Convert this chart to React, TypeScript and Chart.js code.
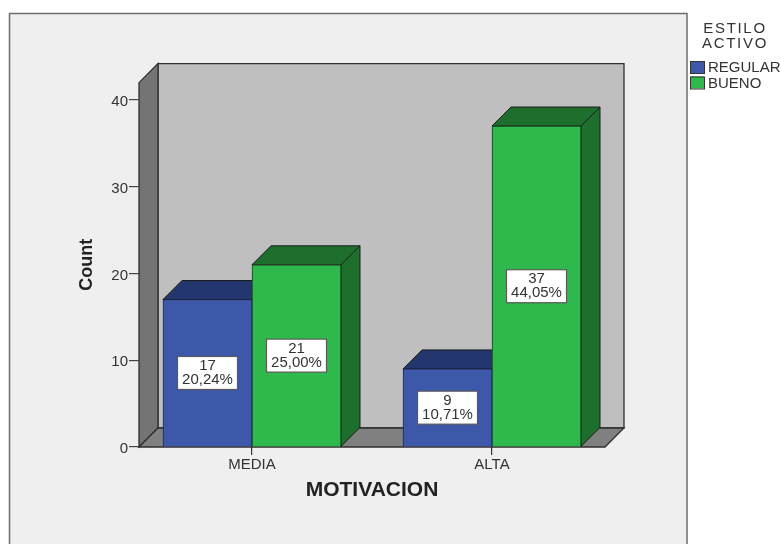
import React, { useEffect, useRef } from "react";
import { Chart, registerables } from "chart.js";

Chart.register(...registerables);

const categories = ["MEDIA", "ALTA"];
const regularCounts = [17, 9];
const buenoCounts = [21, 37];
const regularPercents = ["20,24%", "10,71%"];
const buenoPercents = ["25,00%", "44,05%"];
const legendTitleLines = ["ESTILO", "ACTIVO"];
const seriesNames = ["REGULAR", "BUENO"];
const yTitle = "Count";
const xTitle = "MOTIVACION";

const FONT = "'Liberation Sans', Arial, sans-serif";
const TEXT = "#333333";
const DEPTH = 19;
const fills = ["#3d57a9", "#2fb84b"];
const darkFills = ["#24366e", "#1e6f2d"];
const percentLists = [regularPercents, buenoPercents];

const scene = {
  id: "scene",
  beforeDraw(chart: any) {
    const { ctx, chartArea: a, width, height } = chart;
    ctx.save();
    ctx.fillStyle = "#ffffff";
    ctx.fillRect(0, 0, width, height);
    ctx.fillStyle = "#efefef";
    ctx.strokeStyle = "#6e6e6e";
    ctx.lineWidth = 1.5;
    ctx.beginPath();
    ctx.rect(9.5, 13.5, 677.5, height + 20);
    ctx.fill();
    ctx.stroke();

    // back wall
    ctx.strokeStyle = "#2e2e2e";
    ctx.lineWidth = 1.3;
    ctx.fillStyle = "#bfbfbf";
    ctx.beginPath();
    ctx.rect(a.left + DEPTH, a.top - DEPTH, a.right - a.left, a.bottom - a.top);
    ctx.fill();
    ctx.stroke();
    // left wall
    ctx.fillStyle = "#747474";
    ctx.beginPath();
    ctx.moveTo(a.left, a.bottom);
    ctx.lineTo(a.left + DEPTH, a.bottom - DEPTH);
    ctx.lineTo(a.left + DEPTH, a.top - DEPTH);
    ctx.lineTo(a.left, a.top);
    ctx.closePath();
    ctx.fill();
    ctx.stroke();
    // floor
    ctx.fillStyle = "#808080";
    ctx.beginPath();
    ctx.moveTo(a.left, a.bottom);
    ctx.lineTo(a.right, a.bottom);
    ctx.lineTo(a.right + DEPTH, a.bottom - DEPTH);
    ctx.lineTo(a.left + DEPTH, a.bottom - DEPTH);
    ctx.closePath();
    ctx.fill();
    ctx.stroke();

    // legend
    ctx.fillStyle = TEXT;
    ctx.font = `15px ${FONT}`;
    ctx.textAlign = "center";
    ctx.textBaseline = "middle";
    (ctx as any).letterSpacing = "1.7px";
    legendTitleLines.forEach((t, i) => ctx.fillText(t, 735, 29 + i * 15));
    (ctx as any).letterSpacing = "0px";
    ctx.textAlign = "left";
    seriesNames.forEach((t, i) => {
      const y = 61 + i * 15.5;
      ctx.fillStyle = fills[i];
      ctx.strokeStyle = "#333333";
      ctx.lineWidth = 1;
      ctx.fillRect(690, y, 14, 12);
      ctx.strokeRect(690.5, y + 0.5, 14, 12);
      ctx.fillStyle = TEXT;
      ctx.fillText(t, 708, y + 7);
    });
    ctx.restore();
  },
  beforeDatasetsDraw(chart: any) {
    const { ctx } = chart;
    ctx.save();
    ctx.strokeStyle = "#1c1c1c";
    ctx.lineWidth = 1;
    chart.data.datasets.forEach((_: any, d: number) => {
      chart.getDatasetMeta(d).data.forEach((el: any) => {
        const l = el.x - el.width / 2;
        const r = el.x + el.width / 2;
        ctx.fillStyle = darkFills[d];
        ctx.beginPath();
        ctx.moveTo(l, el.y);
        ctx.lineTo(l + DEPTH, el.y - DEPTH);
        ctx.lineTo(r + DEPTH, el.y - DEPTH);
        ctx.lineTo(r + DEPTH, el.base - DEPTH);
        ctx.lineTo(r, el.base);
        ctx.lineTo(r, el.y);
        ctx.closePath();
        ctx.fill();
        ctx.stroke();
        ctx.beginPath();
        ctx.moveTo(r, el.y);
        ctx.lineTo(r + DEPTH, el.y - DEPTH);
        ctx.stroke();
      });
    });
    ctx.restore();
  },
  afterDatasetsDraw(chart: any) {
    const { ctx } = chart;
    ctx.save();
    ctx.font = `15px ${FONT}`;
    ctx.textAlign = "center";
    ctx.textBaseline = "middle";
    chart.data.datasets.forEach((ds: any, d: number) => {
      chart.getDatasetMeta(d).data.forEach((el: any, i: number) => {
        const cy = (el.y + el.base) / 2;
        const w = 60;
        const h = 33;
        ctx.fillStyle = "#ffffff";
        ctx.strokeStyle = "#5a5a5a";
        ctx.lineWidth = 1.2;
        ctx.fillRect(el.x - w / 2, cy - h / 2, w, h);
        ctx.strokeRect(el.x - w / 2, cy - h / 2, w, h);
        ctx.fillStyle = TEXT;
        ctx.fillText(String(ds.data[i].y), el.x, cy - 7);
        ctx.fillText(percentLists[d][i], el.x, cy + 7);
      });
    });
    ctx.restore();
  },
};

export default function App() {
  const ref = useRef<HTMLCanvasElement>(null);
  useEffect(() => {
    const chart = new Chart(ref.current as HTMLCanvasElement, {
      type: "bar",
      data: {
        datasets: [
          {
            label: seriesNames[0],
            data: regularCounts.map((y, x) => ({ x, y })),
            backgroundColor: fills[0],
            borderColor: "#1c2a55",
            borderWidth: 1,
            barThickness: 89,
          },
          {
            label: seriesNames[1],
            data: buenoCounts.map((y, x) => ({ x, y })),
            backgroundColor: fills[1],
            borderColor: "#14401e",
            borderWidth: 1,
            barThickness: 89,
          },
        ],
      } as any,
      options: {
        animation: false,
        responsive: false,
        devicePixelRatio: 1,
        layout: { padding: { left: 70, right: 176, top: 82.65, bottom: 40 } },
        plugins: { legend: { display: false }, tooltip: { enabled: false } },
        scales: {
          x: {
            type: "linear",
            min: -0.4708,
            max: 1.4708,
            offset: false,
            afterBuildTicks(s: any) {
              s.ticks = categories.map((_, value) => ({ value }));
            },
            afterFit(s: any) {
              s.height = 57;
            },
            grid: { offset: false, drawOnChartArea: false, color: "#333333", tickLength: 8, lineWidth: 1.2 },
            border: { display: false },
            ticks: {
              padding: 1,
              color: TEXT,
              font: { family: FONT, size: 15 },
              maxRotation: 0,
              autoSkip: false,
              callback: (v: any) => categories[v] ?? "",
            },
            title: {
              display: true,
              text: xTitle,
              color: "#222222",
              font: { family: FONT, size: 21, weight: "bold" },
              padding: { top: 0, bottom: 1 },
            },
          },
          y: {
            min: 0,
            max: 42,
            afterFit(s: any) {
              s.width = 69;
            },
            grid: { drawOnChartArea: false, color: "#444444", tickLength: 10, lineWidth: 1.2 },
            border: { display: false },
            ticks: {
              stepSize: 10,
              includeBounds: false,
              padding: 1,
              labelOffset: 2,
              color: TEXT,
              font: { family: FONT, size: 15 },
            },
            title: {
              display: true,
              text: yTitle,
              color: "#222222",
              font: { family: FONT, size: 18, weight: "bold" },
              padding: { top: 6, bottom: 0 },
            },
          },
        },
      } as any,
      plugins: [scene],
    });
    return () => chart.destroy();
  }, []);
  return (
    <canvas
      ref={ref}
      width={781}
      height={544}
      style={{ position: "absolute", left: 0, top: 0, display: "block", filter: "blur(0.6px)" }}
    />
  );
}
